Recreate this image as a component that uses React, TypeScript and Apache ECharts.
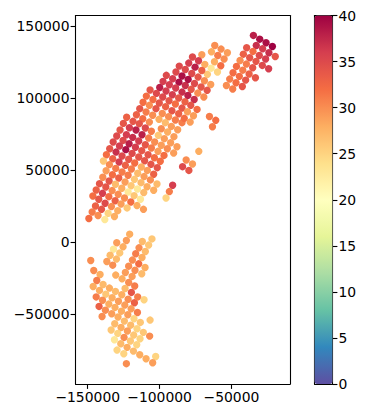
import React, { useEffect, useRef } from "react";
import * as echarts from "echarts";

const northWest: number[][] = [
[-86300,122100,35],[-88600,118000,35],[-82100,119800,35],[-84400,115200,39],[-95300,115700,35],[-97600,111500,36],[-90900,113300,36],[-86500,111000,39],[-82100,108700,37],[-93200,109200,36],
[-99900,107300,38],[-95500,104800,36],[-88800,106900,36],[-84400,104100,37],[-106600,105500,34],[-102200,103200,35],[-97800,100700,35],[-91100,102300,36],[-86700,100000,34],[-109200,101300,32],
[-104600,99000,32],[-100200,96500,34],[-93400,98100,34],[-89000,95800,32],[-82300,97400,33],[-84400,93000,34],[-111500,97000,32],[-107100,94900,30],[-102500,92600,34],[-95800,94000,33],
[-91400,91200,34],[-86700,89100,33],[-113800,92600,34],[-109400,90300,31],[-104800,88000,30],[-98100,89300,30],[-93700,87000,30],[-89000,84700,31],[-84400,82900,31],[-82800,85900,32],
[-116100,88400,33],[-111700,85600,32],[-107100,83300,30],[-100400,85200,28],[-96000,82900,27],[-122900,86600,33],[-118500,83800,34],[-114100,82200,34],[-125200,82400,34],
[-127500,77800,34],[-121000,79400,36],[-116400,77800,38],[-109900,79200,35],[-105700,76900,31],[-98800,78700,30],[-94400,76400,28],[-91800,80300,29],[-87400,78000,29],[-123100,74500,36],
[-129800,73600,35],[-118700,72700,37],[-112200,74500,38],[-107600,72200,31],[-100900,74100,26],[-96700,71800,29],[-90000,73200,29],[-132300,69500,35],[-125400,70600,35],[-121200,68300,38],
[-114500,70200,36],[-109900,67600,34],[-103400,69500,30],[-98800,67200,29],[-92300,69000,29],[-87900,66200,29],[-134700,64800,34],[-127900,66700,36],[-123500,64200,39],[-116800,65800,36],
[-112400,63500,34],[-105700,65300,31],[-101100,63000,29],[-94600,64800,30],[-90200,61800,29],[-137000,60700,32],[-130300,62500,37],[-126100,59800,35],[-119100,61600,35],[-114500,59100,34],
[-108000,60700,34],[-103600,58600,32],[-96900,60200,32],[-139100,56300,26],[-132600,57900,33],[-128200,55600,36],[-121500,57500,34],[-117300,54900,32],[-110400,56500,34],[-106000,54000,34],
[-99500,56100,32],[-134900,53800,30],[-130500,51200,31],[-123800,53300,33],[-119600,50800,31],[-112700,52200,28],[-108500,49800,29],[-101600,51700,34],[-137200,49600,29],[-132800,46800,32],
[-126100,48700,31],[-121900,46400,31],[-115200,47800,27],[-110800,45500,29],[-104100,47100,33],[-139500,45000,30],[-135100,42500,34],[-128400,44500,33],[-124000,41800,29],[-117500,43600,26],
[-112900,41300,27],[-106400,43200,30],[-101800,40400,27],[-141800,40600,34],[-137400,38300,34],[-130700,40200,27],[-126300,37400,28],[-119800,39200,26],[-115400,36900,23],[-108700,38500,28],
[-104100,36000,28],[-144100,36200,33],[-139700,33900,36],[-133000,35800,30],[-128800,33200,30],[-121900,34800,23],[-117700,32300,26],[-111000,34400,27],[-146400,32100,32],[-142300,29800,34],
[-135300,31600,32],[-130900,28800,33],[-124400,30700,30],[-120000,27900,32],[-113300,29800,23],[-144600,25100,33],[-137900,27000,35],[-133500,24700,30],[-126800,26500,29],[-122600,23800,26],
[-115700,25400,28],[-111200,22800,29],[-146900,21000,31],[-140400,22800,34],[-135800,20100,25],[-129100,21900,28],[-131400,17800,28],[-149200,16400,32],[-142800,18500,30],[-138100,15700,23],
];

const strays: number[][] = [
[-90900,39500,36],[-93200,35100,31],[-95500,30700,25],[-81500,57000,30],[-77100,54200,29],[-84000,52400,35],[-79600,49800,34],[-72700,63000,28],[-65300,87200,31],[-60900,84500,32],[-63200,80100,31],
];

const northCentral: number[][] = [
[-61600,136400,30],[-57200,133900,30],[-52800,131400,29],[-63900,132000,28],[-59500,129500,31],[-55100,127000,30],[-70600,130000,29],[-61800,125100,28],[-57400,122400,32],[-68500,123300,28],
[-64100,120700,23],[-59700,118000,25],[-66700,116400,26],[-77100,128400,35],[-72900,125800,36],[-79700,124200,36],[-75300,121400,38],[-70600,119100,33],[-77600,117000,35],[-73200,114500,34],
[-68800,112000,30],[-64400,109400,29],[-80100,112900,39],[-75700,110100,35],[-71100,107600,34],[-66900,105300,34],[-78000,106000,34],[-73400,103400,30],[-69200,100700,30],[-80300,101800,38],
[-75900,99000,37],[-78300,94900,34],[-73900,92100,32],[-80600,90500,29],[-76400,87700,29],[-78700,83300,29],
];

const northEast: number[][] = [
[-34700,143400,38],[-30300,140800,39],[-25900,138300,39],[-21500,135700,40],[-32700,136400,37],[-28300,134100,36],[-23900,131400,37],[-19500,128800,34],[-39400,134800,34],[-35000,132300,32],
[-30600,129500,35],[-26200,127000,36],[-41700,130400,33],[-37300,127900,34],[-32900,125400,34],[-28500,122600,35],[-24100,120300,36],[-44000,126000,30],[-39600,123500,31],[-35200,121000,34],
[-46500,121900,32],[-42100,119300,31],[-37700,116600,33],[-33300,114000,34],[-48900,117500,32],[-44500,115000,32],[-40100,112400,34],[-51200,113100,31],[-46800,110600,32],[-42400,108000,34],
[-53500,108700,30],[-49100,106200,31],
];

const southUpper: number[][] = [
[-120800,5600,28],[-105300,2300,26],[-112000,500,27],[-123100,1200,29],[-129800,-400,29],[-107600,-2000,26],[-125400,-3200,28],[-132100,-4800,23],[-114300,-3900,30],[-109900,-6400,27],
[-127700,-7400,26],[-134400,-9000,27],[-116600,-8000,31],[-112200,-10600,28],[-147900,-12700,30],[-130000,-11700,27],[-136700,-13400,29],[-118900,-12400,30],[-132600,-15900,30],[-114500,-15000,32],
[-121500,-16600,30],[-110100,-17500,28],[-145800,-19600,30],[-117100,-19400,30],[-123800,-21000,29],[-112400,-21900,27],[-141400,-22400,28],[-130500,-22800,28],[-119100,-23700,29],[-126100,-25400,28],
[-143700,-26500,31],[-121500,-27900,30],[-139300,-29300,27],[-146200,-30700,28],[-117300,-30400,31],[-134900,-31800,28],[-124000,-32100,27],[-141800,-33400,28],[-130700,-34100,27],[-119600,-34800,34],
[-137400,-36000,26],[-126300,-36400,28],
];

const southLower: number[][] = [
[-144100,-37900,31],[-139700,-40200,30],[-133000,-38500,28],[-128600,-40900,29],[-121900,-39500,30],[-117500,-42000,33],[-115200,-37900,31],[-110800,-39900,25],[-135300,-42900,28],[-131000,-45200,28],
[-142100,-44500,33],[-137700,-47100,30],[-124200,-43600,29],[-119800,-46200,29],[-126500,-47800,28],[-122100,-50300,29],[-133300,-49600,29],[-140000,-51500,30],[-128900,-51900,28],[-115400,-48700,31],
[-117800,-53100,25],[-113400,-55600,26],[-124500,-54700,27],[-106600,-54000,26],[-131200,-56500,27],[-120100,-57500,27],[-126800,-59100,28],[-115700,-60000,25],[-133700,-60900,26],[-122400,-61600,29],
[-111300,-62500,26],[-129100,-63200,25],[-118000,-64400,26],[-106900,-65100,30],[-124700,-66000,30],[-131400,-67600,23],[-113600,-66900,25],[-120300,-68500,26],[-127000,-70400,27],[-115900,-71100,25],
[-122600,-72900,28],[-129600,-74800,25],[-118200,-75500,27],[-124900,-77300,25],[-113800,-78000,28],[-109400,-80800,28],[-102700,-79200,25],[-104800,-83600,29],[-123100,-84200,30],
];

const xTicks = [-150000, -100000, -50000];
const yTicks = [-50000, 0, 50000, 100000, 150000];
const colorTicks = [0, 5, 10, 15, 20, 25, 30, 35, 40];
const spectralReversed = ["#5e4fa2","#3288bd","#66c2a5","#abdda4","#e6f598","#ffffbf","#fee08b","#fdae61","#f46d43","#d53e4f","#9e0142"];

const FONT = "DejaVu Sans";
const minus = (v: number) => String(v).replace("-", "\u2212");
const LINE = { color: "#000", width: 1.1 };

export default function App() {
  const ref = useRef<HTMLDivElement>(null);
  useEffect(() => {
    document.body.style.margin = "0";
    const chart = echarts.init(ref.current!, undefined, { renderer: "svg" });
    const data = [...northWest, ...strays, ...northCentral, ...northEast, ...southUpper, ...southLower];
    const tickStyle = { show: true, length: 4.9, lineStyle: LINE };
    const labelStyle = { fontFamily: FONT, fontSize: 13.9, color: "#000", margin: 6 };
    const plain = { show: false };
    chart.setOption({
      animation: false,
      backgroundColor: "#fff",
      grid: [
        { left: 75.5, top: 15.5, width: 214.5, height: 368.5, containLabel: false },
        { left: 314.5, top: 15.5, width: 18, height: 368.5, containLabel: false },
      ],
      xAxis: [
        { type: "value", gridIndex: 0, min: -158500, max: -9240, splitLine: plain,
          axisLine: { show: true, onZero: false, lineStyle: LINE },
          axisTick: { ...tickStyle, customValues: xTicks },
          axisLabel: { ...labelStyle, customValues: xTicks, formatter: minus } },
        { type: "value", gridIndex: 0, position: "top", min: -158500, max: -9240, splitLine: plain,
          axisLine: { show: true, onZero: false, lineStyle: LINE }, axisTick: plain, axisLabel: plain },
        { type: "value", gridIndex: 1, position: "bottom", min: 0, max: 1, splitLine: plain,
          axisLine: { show: true, onZero: false, lineStyle: LINE }, axisTick: plain, axisLabel: plain },
        { type: "value", gridIndex: 1, position: "top", min: 0, max: 1, splitLine: plain,
          axisLine: { show: true, onZero: false, lineStyle: LINE }, axisTick: plain, axisLabel: plain },
      ],
      yAxis: [
        { type: "value", gridIndex: 0, min: -98300, max: 157200, splitLine: plain,
          axisLine: { show: true, onZero: false, lineStyle: LINE },
          axisTick: { ...tickStyle, customValues: yTicks },
          axisLabel: { ...labelStyle, customValues: yTicks, formatter: minus } },
        { type: "value", gridIndex: 0, position: "right", min: -98300, max: 157200, splitLine: plain,
          axisLine: { show: true, onZero: false, lineStyle: LINE }, axisTick: plain, axisLabel: plain },
        { type: "value", gridIndex: 1, position: "right", min: 0, max: 40, interval: 5, splitLine: plain,
          axisLine: { show: true, onZero: false, lineStyle: LINE }, axisTick: tickStyle,
          axisLabel: { ...labelStyle, customValues: colorTicks } },
        { type: "value", gridIndex: 1, position: "left", min: 0, max: 40, splitLine: plain,
          axisLine: { show: true, onZero: false, lineStyle: LINE }, axisTick: plain, axisLabel: plain },
      ],
      visualMap: {
        type: "continuous", seriesIndex: 0, min: 0, max: 40, dimension: 2,
        left: 314.5, top: 15.5, itemWidth: 18, itemHeight: 368.5, padding: 0,
        calculable: false, realtime: false, text: ["", ""], showLabel: false,
        inRange: { color: spectralReversed },
        textStyle: { fontSize: 0 },
      },
      series: [
        { type: "scatter", xAxisIndex: 0, yAxisIndex: 0, data, symbolSize: 7.4,
          itemStyle: { opacity: 1 }, silent: true },
        { type: "scatter", xAxisIndex: 2, yAxisIndex: 2, data: [], silent: true },
      ],
    });
    return () => chart.dispose();
  }, []);
  return <div ref={ref} style={{ width: 369, height: 418 }} />;
}
